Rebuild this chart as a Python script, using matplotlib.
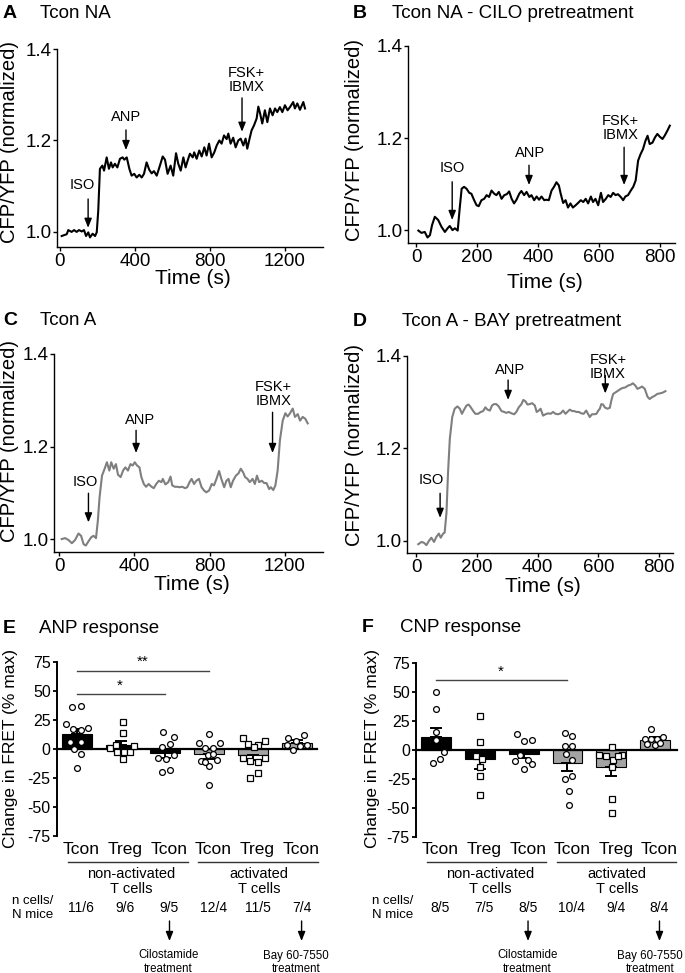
import matplotlib
matplotlib.use('Agg')
import matplotlib.pyplot as plt
from matplotlib.transforms import blended_transform_factory as btf

plt.rcParams['font.family'] = ['Liberation Sans', 'DejaVu Sans']
plt.rcParams['axes.unicode_minus'] = False

# ---------------- data ----------------
A_trace = [(9,0.991),(36,0.995),(44,1.004),(62,1.0),(75,1.004),(89,1.0),(101,1.004),(116,1.001),
           (128,1.004),(139,0.991),(151,0.999),(160,0.988),(174,0.996),(187,0.991),(196,0.999),
           (204,1.046),(213,1.138),(226,1.145),(235,1.134),(249,1.163),(261,1.138),(272,1.152),
           (281,1.141),(293,1.149),(306,1.141),(320,1.160),(334,1.163),(343,1.158),(356,1.163),
           (370,1.138),(382,1.123),(396,1.127),(409,1.119),(423,1.125),(436,1.119),(448,1.127),
           (462,1.152),(476,1.136),(489,1.128),(501,1.133),(516,1.123),(530,1.141),(548,1.165),
           (560,1.158),(574,1.127),(590,1.145),(604,1.123),(619,1.172),(631,1.149),(644,1.134),
           (658,1.163),(670,1.141),(681,1.156),(693,1.171),(708,1.163),(716,1.174),(729,1.160),
           (743,1.178),(756,1.165),(770,1.185),(782,1.167),(795,1.193),(809,1.163),(823,1.174),
           (836,1.189),(850,1.200),(862,1.193),(875,1.211),(889,1.203),(898,1.215),(910,1.193),
           (924,1.206),(937,1.185),(951,1.200),(964,1.204),(978,1.189),(990,1.204),(999,1.182),
           (1013,1.207),(1022,1.222),(1035,1.233),(1049,1.248),(1058,1.274),(1067,1.260),
           (1079,1.237),(1093,1.266),(1106,1.240),(1120,1.270),(1134,1.255),(1147,1.270),
           (1159,1.262),(1173,1.273),(1186,1.262),(1200,1.277),(1214,1.266),(1227,1.273),
           (1244,1.284),(1253,1.270),(1266,1.281),(1280,1.267),(1298,1.284),(1307,1.270)]

B_trace = [(7,0.999),(17,0.994),(28,0.996),(37,0.984),(45,0.989),(52,1.011),(61,1.029),(72,1.022),
           (83,1.007),(94,0.996),(103,1.004),(110,1.009),(119,1.0),(127,1.004),(136,0.999),
           (143,1.050),(149,1.090),(157,1.094),(165,1.090),(174,1.081),(181,1.079),(190,1.065),
           (198,1.054),(205,1.052),(214,1.065),(223,1.068),(231,1.076),(239,1.072),(247,1.086),
           (256,1.079),(263,1.076),(271,1.083),(280,1.068),(289,1.076),(297,1.078),(305,1.084),
           (313,1.068),(321,1.058),(329,1.066),(338,1.079),(345,1.085),(354,1.076),(362,1.083),
           (371,1.072),(378,1.076),(387,1.065),(395,1.073),(403,1.066),(411,1.073),(420,1.065),
           (427,1.066),(435,1.065),(444,1.086),(452,1.094),(460,1.104),(468,1.097),(474,1.079),
           (482,1.059),(490,1.065),(498,1.049),(506,1.058),(514,1.049),(523,1.054),(531,1.059),
           (540,1.065),(548,1.061),(556,1.068),(564,1.058),(573,1.073),(580,1.061),(588,1.068),
           (597,1.054),(606,1.081),(613,1.061),(622,1.068),(630,1.076),(638,1.072),(646,1.081),
           (654,1.076),(662,1.078),(671,1.072),(679,1.065),(686,1.073),(695,1.076),(704,1.086),
           (712,1.094),(720,1.108),(728,1.151),(736,1.165),(744,1.176),(752,1.194),(759,1.205),
           (766,1.187),(775,1.190),(783,1.201),(791,1.209),(799,1.203),(808,1.198),(815,1.205),
           (824,1.216),(832,1.227)]

C_trace = [(14,1.0),(32,1.002),(50,0.998),(68,0.991),(85,0.998),(103,1.012),(117,1.007),(130,0.989),
           (142,0.986),(156,0.995),(171,1.004),(183,1.007),(196,1.002),(206,1.040),(215,1.090),
           (228,1.137),(242,1.152),(254,1.166),(267,1.148),(277,1.166),(290,1.152),(302,1.162),
           (313,1.139),(327,1.134),(340,1.148),(352,1.155),(366,1.148),(379,1.162),(391,1.159),
           (402,1.166),(414,1.159),(427,1.155),(437,1.134),(450,1.119),(462,1.113),(476,1.119),
           (491,1.113),(503,1.110),(516,1.119),(530,1.126),(544,1.123),(551,1.130),(565,1.118),
           (580,1.123),(592,1.135),(601,1.116),(615,1.113),(628,1.113),(640,1.112),(654,1.113),
           (669,1.110),(681,1.112),(693,1.123),(704,1.130),(717,1.119),(729,1.126),(743,1.130),
           (757,1.112),(770,1.105),(782,1.101),(797,1.105),(811,1.119),(823,1.116),(836,1.130),
           (850,1.147),(862,1.130),(877,1.112),(889,1.126),(900,1.130),(912,1.112),(924,1.126),
           (939,1.137),(953,1.142),(965,1.152),(978,1.144),(988,1.134),(1001,1.130),(1013,1.123),
           (1028,1.130),(1040,1.119),(1051,1.137),(1063,1.123),(1077,1.126),(1090,1.121),
           (1102,1.121),(1116,1.108),(1125,1.112),(1138,1.106),(1149,1.116),(1161,1.148),
           (1173,1.213),(1188,1.256),(1202,1.272),(1214,1.265),(1227,1.272),(1241,1.282),
           (1253,1.264),(1268,1.270),(1280,1.256),(1294,1.264),(1308,1.260),(1321,1.250)]

D_trace = [(7,0.993),(18,0.998),(26,0.996),(34,0.991),(42,1.0),(50,1.007),(59,0.998),(67,1.009),
           (75,1.016),(81,1.007),(89,1.016),(94,1.018),(100,1.061),(105,1.146),(111,1.221),
           (119,1.268),(127,1.286),(136,1.291),(144,1.286),(151,1.275),(158,1.284),(166,1.293),
           (173,1.295),(180,1.289),(188,1.281),(195,1.275),(204,1.275),(213,1.279),(221,1.281),
           (228,1.289),(235,1.284),(243,1.282),(250,1.293),(257,1.296),(264,1.296),(272,1.291),
           (281,1.281),(290,1.279),(297,1.277),(305,1.279),(314,1.276),(323,1.274),(330,1.279),
           (338,1.289),(347,1.296),(353,1.305),(360,1.302),(367,1.295),(374,1.296),(382,1.298),
           (391,1.293),(397,1.279),(404,1.282),(410,1.286),(418,1.271),(426,1.274),(435,1.276),
           (443,1.275),(451,1.279),(459,1.275),(467,1.274),(476,1.276),(484,1.282),(492,1.275),
           (498,1.279),(506,1.284),(514,1.281),(520,1.281),(528,1.279),(536,1.279),(544,1.276),
           (552,1.275),(560,1.282),(566,1.275),(572,1.268),(579,1.274),(586,1.274),(594,1.275),
           (599,1.281),(605,1.286),(610,1.296),(616,1.295),(621,1.289),(630,1.286),(638,1.288),
           (643,1.304),(649,1.318),(656,1.321),(665,1.325),(674,1.329),(681,1.331),(689,1.332),
           (698,1.336),(707,1.338),(714,1.341),(722,1.336),(729,1.329),(736,1.331),(744,1.334),
           (753,1.329),(762,1.312),(769,1.307),(777,1.311),(786,1.314),(794,1.318),(802,1.319),
           (813,1.321),(821,1.324)]

# event annotations: (label, text_t, text_y, arrow_t, arrow_from, arrow_to)
A_events = [("ISO", 121, 1.103, 150, 1.072, 1.009),
            ("ANP", 352, 1.251, 352, 1.223, 1.179),
            ("FSK+\nIBMX", 995, 1.333, 971, 1.293, 1.219)]
B_events = [("ISO", 118, 1.135, 118, 1.105, 1.022),
            ("ANP", 372, 1.168, 370, 1.141, 1.098),
            ("FSK+\nIBMX", 669, 1.222, 682, 1.180, 1.098)]
C_events = [("ISO", 140, 1.124, 156, 1.099, 1.036),
            ("ANP", 432, 1.258, 409, 1.235, 1.186),
            ("FSK+\nIBMX", 1138, 1.313, 1134, 1.274, 1.186)]
D_events = [("ISO", 51, 1.132, 79, 1.103, 1.050),
            ("ANP", 309, 1.369, 303, 1.348, 1.305),
            ("FSK+\nIBMX", 632, 1.377, 623, 1.358, 1.319)]

groups = ["Tcon", "Treg", "Tcon", "Tcon", "Treg", "Tcon"]

E_mean = [13.0, 3.7, -3.8, -4.6, -5.5, 5.5]
E_sem = [4.5, 3.2, 4.0, 3.7, 4.3, 2.0]
E_points = [[36, 37, 21.5, 17, 16, 18, 6, 6, 0, -4, -16],
            [23, 14, 1, -2.6, -2.6, -2.6, 3, -9, 3.7],
            [14.4, 10, 4.6, 1.4, -7.8, -8.3, -4.9, -20, -18],
            [12.6, 5.2, 1.1, 1.1, 4.9, -10.3, -5.5, -4, -9.8, -15, -11, -31],
            [9.5, 4.3, 3.2, 7.2, -7.8, -10.6, -11.2, -7.8, -20.4, -25, 2],
            [9.5, 6.6, 11.8, 3.2, -1, 2.9, 3.2]]
E_jitter = [[-0.11, 0.09, -0.24, -0.09, 0.08, 0.25, -0.17, 0.09, -0.08, 0.09, 0.01],
            [0.04, 0.04, -0.24, -0.09, 0.06, 0.21, 0.30, 0.04, -0.12],
            [-0.05, 0.2, 0.11, -0.06, -0.15, 0.02, 0.2, -0.08, 0.11],
            [0, -0.24, -0.09, 0.09, 0.24, -0.19, -0.02, 0.08, 0.17, 0, -0.1, 0],
            [-0.23, -0.11, 0.11, 0.27, -0.23, -0.08, 0.1, 0.27, 0.11, -0.08, 0.02],
            [-0.21, -0.02, 0.15, -0.24, -0.1, 0.06, 0.23]]
E_n = ["11/6", "9/6", "9/5", "12/4", "11/5", "7/4"]
E_sig = [(0, 3, 67.4, "**"), (0, 2, 47.0, "*")]

F_mean = [11.5, -8.0, -3.2, -11.0, -15.0, 9.0]
F_sem = [7.5, 8.0, 3.5, 7.0, 7.0, 2.0]
F_points = [[50, 35.5, 15.8, 8.3, -1.7, -8, -11.5],
            [29, 6.6, -5, -7.5, -15, -22, -39],
            [13.5, 7.7, 8.3, -4, -9.5, -8.6, -16, -12.3],
            [14.9, 12, 3.4, 3.4, -3.7, -8.6, -25, -22, -35, -47.6],
            [2.6, -4.3, -5.2, -8.9, -4.6, -15, -42, -54, -5.2],
            [18.3, 9.7, 9.2, 9.7, 11.5, 5.4, 4.3, 6.3]]
F_jitter = [[0, 0, 0, 0, 0.18, 0.09, -0.08],
            [0, 0, -0.09, 0.06, 0, 0, 0],
            [-0.15, 0, 0.18, -0.08, -0.19, 0.11, 0, 0.18],
            [-0.06, 0.11, -0.06, 0.11, -0.04, 0.11, -0.06, 0.11, 0.04, 0.04],
            [0.02, -0.27, -0.12, 0.04, 0.24, 0.02, 0.02, 0.02, 0.15],
            [-0.09, -0.23, -0.1, 0.04, 0.18, -0.18, 0, 0.11]]
F_n = ["8/5", "7/5", "8/5", "10/4", "9/4", "8/4"]
F_sig = [(0, 3, 60.0, "*")]

bar_colors = ["black", "black", "black", "#a3a3a3", "#a3a3a3", "#a3a3a3"]
point_markers = ["o", "s", "o", "o", "s", "o"]

# ---------------- layout ----------------
W, H = 685, 973
fig = plt.figure(figsize=(W / 100, H / 100), dpi=100)


def rect(l, t, r, b):
    return [l / W, 1 - b / H, (r - l) / W, (b - t) / H]


def fy(py):
    return 1 - py / H


def ftext(px, py, s, **kw):
    fig.text(px / W, fy(py), s, **kw)


def trace_panel(r, xlim, ylim, xticks, data, color, events):
    ax = fig.add_axes(r)
    t = [p[0] for p in data]
    v = [p[1] for p in data]
    ax.plot(t, v, color=color, lw=1.5, solid_joinstyle='round')
    ax.set_xlim(*xlim)
    ax.set_ylim(*ylim)
    ax.set_xticks(xticks)
    ax.set_yticks([1.0, 1.2, 1.4])
    ax.set_yticklabels(["1.0", "1.2", "1.4"])
    for s in ['top', 'right']:
        ax.spines[s].set_visible(False)
    for s in ['left', 'bottom']:
        ax.spines[s].set_linewidth(1.0)
    ax.tick_params(direction='out', length=3, width=1.0, pad=1, labelsize=13.5)
    for lab, tx, ty, axx, a0, a1 in events:
        ax.text(tx, ty, lab, ha='center', va='center', fontsize=10.5, linespacing=1.0)
        ax.annotate('', xy=(axx, a1), xytext=(axx, a0),
                    arrowprops=dict(arrowstyle='-|>,head_length=0.55,head_width=0.22',
                                    lw=1.0, color='black', shrinkA=0, shrinkB=0,
                                    mutation_scale=10))
    return ax


axA = trace_panel(rect(57, 49, 323, 247), (-16, 1403), (0.967, 1.4), [0, 400, 800, 1200],
                  A_trace, 'black', A_events)
axB = trace_panel(rect(408, 46, 675, 243), (-27, 849), (0.972, 1.4), [0, 200, 400, 600, 800],
                  B_trace, 'black', B_events)
axC = trace_panel(rect(54, 354, 323, 552), (-27, 1402), (0.972, 1.4), [0, 400, 800, 1200],
                  C_trace, '#7f7f7f', C_events)
axD = trace_panel(rect(407, 356, 673, 553), (-30, 846), (0.974, 1.4), [0, 200, 400, 600, 800],
                  D_trace, '#7f7f7f', D_events)

# axis labels & titles of trace panels
for (xl, yl), (tx, ty) in [((10, 142), (193, 279)), ((355, 140), (545, 283)),
                           ((10, 441), (192, 585)), ((355, 445), (543, 586))]:
    ftext(xl, yl, "CFP/YFP (normalized)", rotation=90, ha='center', va='center', fontsize=14.5)
    ftext(tx, ty, "Time (s)", ha='center', va='center', fontsize=15)

titles = [("A", 3, 18, "Tcon NA", 40), ("B", 353, 18, "Tcon NA - CILO pretreatment", 392),
          ("C", 3, 325, "Tcon A", 40), ("D", 353, 326, "Tcon A - BAY pretreatment", 402),
          ("E", 3, 633, "ANP response", 39), ("F", 362, 632, "CNP response", 400)]
for letter, lx, by, txt, tx in titles:
    ftext(lx, by, letter, ha='left', va='baseline', fontsize=14, fontweight='bold')
    ftext(tx, by, txt, ha='left', va='baseline', fontsize=13.5)


def bar_panel(r, xlim, means, sems, points, jitter, nlabels, sigs, ylab_x, bay_x):
    ax = fig.add_axes(r)
    pos = list(range(len(means)))
    ax.bar(pos, means, width=0.68, color=bar_colors, edgecolor='black', linewidth=0.8, zorder=2)
    for i, (m, s) in enumerate(zip(means, sems)):
        yerr = [[0], [s]] if m >= 0 else [[s], [0]]
        ax.errorbar([i], [m], yerr=yerr, fmt='none', ecolor='black', elinewidth=1.4,
                    capsize=4.5, capthick=1.4, zorder=3)
    for i, (vals, jit) in enumerate(zip(points, jitter)):
        ax.plot([i + j for j in jit], vals, linestyle='none', marker=point_markers[i],
                markersize=4.2 if point_markers[i] == 'o' else 4.0,
                markerfacecolor='white', markeredgecolor='black', markeredgewidth=0.9,
                zorder=4, clip_on=False)
    ax.set_xlim(*xlim)
    ax.set_ylim(-75, 75)
    ax.set_yticks([75, 50, 25, 0, -25, -50, -75])
    ax.set_yticklabels(["75", "50", "25", "0", "-25", "-50", "-75"])
    ax.set_xticks([])
    for s in ['top', 'right']:
        ax.spines[s].set_visible(False)
    ax.spines['bottom'].set_position(('data', 0))
    ax.spines['bottom'].set_linewidth(1.6)
    ax.spines['bottom'].set_zorder(3.5)
    ax.spines['left'].set_linewidth(1.4)
    ax.tick_params(axis='y', direction='out', length=3, width=1.3, pad=1.5, labelsize=11.5)
    for a, b, y, star in sigs:
        ax.plot([a, b], [y, y], color='#444444', lw=1.0, clip_on=False)
        ax.text((a + b) / 2 - 0.02, y + 7.5, star, ha='center', va='center', fontsize=11)
    tr = btf(ax.transData, fig.transFigure)
    for i, g in enumerate(groups):
        ax.text(i + 0.1, fy(854), g, transform=tr, ha='center', va='baseline', fontsize=12.5)
        ax.text(i + 0.1, fy(912.5), nlabels[i], transform=tr, ha='center', va='baseline',
                fontsize=10)
    for a, b in [(-0.2, 2.52), (2.75, 5.47)]:
        ax.plot([a, b], [fy(862), fy(862)], transform=tr, color='#333333', lw=1.0,
                clip_on=False)
    ax.text(1.24, fy(878), "non-activated", transform=tr, ha='center', va='baseline', fontsize=10.5)
    ax.text(1.24, fy(893), "T cells", transform=tr, ha='center', va='baseline', fontsize=10.5)
    ax.text(4.13, fy(878), "activated", transform=tr, ha='center', va='baseline', fontsize=10.5)
    ax.text(4.13, fy(893), "T cells", transform=tr, ha='center', va='baseline', fontsize=10.5)
    ax.text(-1.0, fy(904), "n cells/", transform=tr, ha='center', va='baseline', fontsize=9.5)
    ax.text(-1.0, fy(917.5), "N mice", transform=tr, ha='center', va='baseline', fontsize=9.5)
    for xi, l1, xt in [(2.1, "Cilostamide", 2.08), (5.1, "Bay 60-7550", bay_x)]:
        ax.annotate('', xy=(xi, fy(941)), xycoords=tr, xytext=(xi, fy(921)), textcoords=tr,
                    arrowprops=dict(arrowstyle='-|>,head_length=0.55,head_width=0.22',
                                    lw=1.0, color='black', shrinkA=0, shrinkB=0,
                                    mutation_scale=10))
        ax.text(xt, fy(958.5), l1, transform=tr, ha='center', va='baseline', fontsize=8.3)
        ax.text(xt, fy(971.5), "treatment", transform=tr, ha='center', va='baseline',
                fontsize=8.3)
    ftext(ylab_x, 749, "Change in FRET (% max)", rotation=90, ha='center', va='center',
          fontsize=12.5)
    return ax


axE = bar_panel(rect(57, 662, 317, 836), (-0.455, 5.45), E_mean, E_sem, E_points, E_jitter,
                E_n, E_sig, 11, 4.98)
axF = bar_panel(rect(416, 663, 677, 837), (-0.457, 5.5), F_mean, F_sem, F_points, F_jitter,
                F_n, F_sig, 372, 4.88)

fig.savefig("out.png", dpi=100)
